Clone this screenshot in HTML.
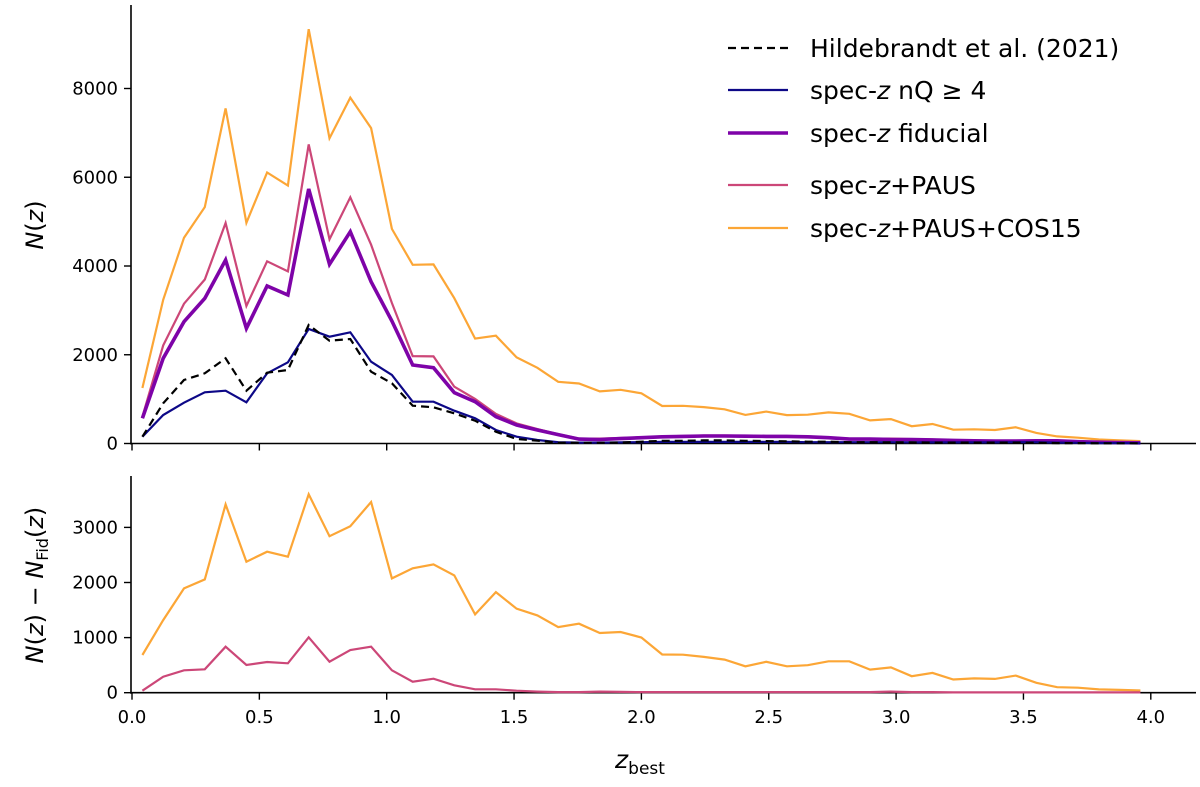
<!DOCTYPE html>
<html><head><meta charset="utf-8"><style>
body{margin:0;background:#fff;width:1200px;height:782px;overflow:hidden}
svg text{font-family:"DejaVu Sans","Liberation Sans",sans-serif;fill:#000}
</style></head><body>
<svg id="chart" width="1200" height="782" viewBox="0 0 1200 782" xmlns="http://www.w3.org/2000/svg"></svg>
<script>
const NB = 49;
const xTicks = ["0.0","0.5","1.0","1.5","2.0","2.5","3.0","3.5","4.0"];
const topTicks = [0,2000,4000,6000,8000];
const botTicks = [0,1000,2000,3000];
const hildebrandt = [153,906,1431,1582,1920,1190,1595,1656,2670,2317,2355,1618,1357,852,816,681,514,266,101,63,20,15,15,20,40,60,60,70,70,60,55,50,40,40,30,30,25,25,20,20,20,20,20,15,10,10,5,5,5];
const specNQ4 = [153,642,920,1153,1190,928,1582,1830,2580,2407,2506,1844,1544,942,942,739,567,304,153,79,30,20,20,25,30,35,35,35,35,35,35,35,30,30,30,30,30,25,25,25,25,25,30,30,20,15,10,10,5];
const fiducial = [567,1920,2745,3272,4135,2596,3549,3346,5735,4038,4773,3646,2761,1769,1708,1145,942,604,417,304,200,100,90,110,130,150,160,170,170,165,160,160,150,130,100,100,90,90,80,70,60,55,55,60,60,40,30,20,15];
const diffPAUS = [36,290,406,424,835,503,557,533,1005,563,775,835,406,200,254,134,62,62,36,20,10,10,20,15,10,10,10,10,10,10,10,10,10,10,10,10,20,10,10,5,5,5,5,5,5,5,5,5,5];
const diffCOS = [684,1318,1893,2056,3417,2378,2559,2468,3601,2840,3021,3461,2075,2257,2329,2129,1421,1826,1524,1403,1191,1252,1083,1101,1002,694,690,650,600,480,560,480,500,570,570,420,460,300,360,240,260,250,310,180,100,90,60,50,40];

const svg = document.getElementById('chart');
const NS = "http://www.w3.org/2000/svg";
function el(tag, attrs, parent){const e=document.createElementNS(NS,tag);for(const k in attrs)e.setAttribute(k,attrs[k]);(parent||svg).appendChild(e);return e;}
const X0=132, XU=254.7;
const xs = z => X0 + z*XU;
const yTop = v => 443.5 - v/2000*88.75;
const yBot = v => 692.7 - v/1000*55.1;
const zc = i => (i+0.5)*4/NB;

function axes(y0, yTopPx, ticks, yf, name){
  const g = el('g',{});
  
  
  el('line',{x1:131,y1:yTopPx,x2:131,y2:y0+1,stroke:'#000','stroke-width':1.6},g);
  el('line',{x1:130,y1:y0,x2:1196,y2:y0,stroke:'#000','stroke-width':1.6},g);
  ticks.forEach(t=>{
    const y=yf(t);
    el('line',{x1:124,y1:y,x2:131,y2:y,stroke:'#000','stroke-width':1.4},g);
    const tx=el('text',{x:118,y:y+6,'text-anchor':'end','font-size':18},g);
    tx.textContent=t;
    
    
  });
  xTicks.forEach((t,i)=>{
    const x=xs(i*0.5);
    el('line',{x1:x,y1:y0,x2:x,y2:y0+7,stroke:'#000','stroke-width':1.4},g);
  });
}
axes(443.5, 5, topTicks, yTop, 'top-axes');
axes(692.7, 476, botTicks, yBot, 'bottom-axes');
xTicks.forEach((t,i)=>{
  const tx=el('text',{x:xs(i*0.5),y:723,'text-anchor':'middle','font-size':18});
  tx.textContent=t;
  
  
});

function series(vals, yf, color, w, dash, name){
  const pts = vals.map((v,i)=>xs(zc(i)).toFixed(1)+','+yf(v).toFixed(1)).join(' ');
  const p = el('polyline',{points:pts,fill:'none',stroke:color,'stroke-width':w,'stroke-linejoin':'miter'});
  if(dash) p.setAttribute('stroke-dasharray',dash);
  
  
}
const pausTop = fiducial.map((v,i)=>v+diffPAUS[i]);
const cosTop = fiducial.map((v,i)=>v+diffCOS[i]);
series(cosTop, yTop, '#fca636', 2.2, null, 'line-specz-paus-cos15');
series(pausTop, yTop, '#cc4778', 2.2, null, 'line-specz-paus');
series(fiducial, yTop, '#7e03a8', 3.6, null, 'line-specz-fiducial');
series(specNQ4, yTop, '#0d0887', 2.2, null, 'line-specz-nq4');
series(hildebrandt, yTop, '#000', 2.2, '8,5', 'line-hildebrandt');
series(diffCOS, yBot, '#fca636', 2.2, null, 'diff-specz-paus-cos15');
series(diffPAUS, yBot, '#cc4778', 2.2, null, 'diff-specz-paus');

const leg = [
 ['#000',2.2,'8,5','Hildebrandt et al. (2021)',48],
 ['#0d0887',2.2,null,'spec-<i>z</i> nQ ≥ 4',90],
 ['#7e03a8',3.6,null,'spec-<i>z</i> fiducial',133],
 ['#cc4778',2.2,null,'spec-<i>z</i>+PAUS',185],
 ['#fca636',2.2,null,'spec-<i>z</i>+PAUS+COS15',228]];
leg.forEach(l=>{
  const g=el('g',{});
  
  
  const ln=el('line',{x1:728,y1:l[4],x2:788,y2:l[4],stroke:l[0],'stroke-width':l[1]},g);
  if(l[2]) ln.setAttribute('stroke-dasharray',l[2]);
  const t=el('text',{x:810,y:l[4]+9,'font-size':25},g);
  t.innerHTML=l[3].replace(/<i>z<\/i>/,'<tspan font-style="italic">z</tspan>');
});

const yl1=el('text',{x:0,y:0,'font-size':24,transform:'translate(43,225) rotate(-90)','text-anchor':'middle'});
yl1.innerHTML='<tspan font-style="italic">N</tspan>(<tspan font-style="italic">z</tspan>)';


const yl2=el('text',{x:0,y:0,'font-size':24,transform:'translate(43,585) rotate(-90)','text-anchor':'middle'});
yl2.innerHTML='<tspan font-style="italic">N</tspan>(<tspan font-style="italic">z</tspan>) − <tspan font-style="italic">N</tspan><tspan font-size="16" dy="5">Fid</tspan><tspan dy="-5">(</tspan><tspan font-style="italic">z</tspan>)';


const xl=el('text',{x:640,y:768,'font-size':25,'text-anchor':'middle'});
xl.innerHTML='<tspan font-style="italic">z</tspan><tspan font-size="17" dy="6">best</tspan>';


</script>
</body></html>
